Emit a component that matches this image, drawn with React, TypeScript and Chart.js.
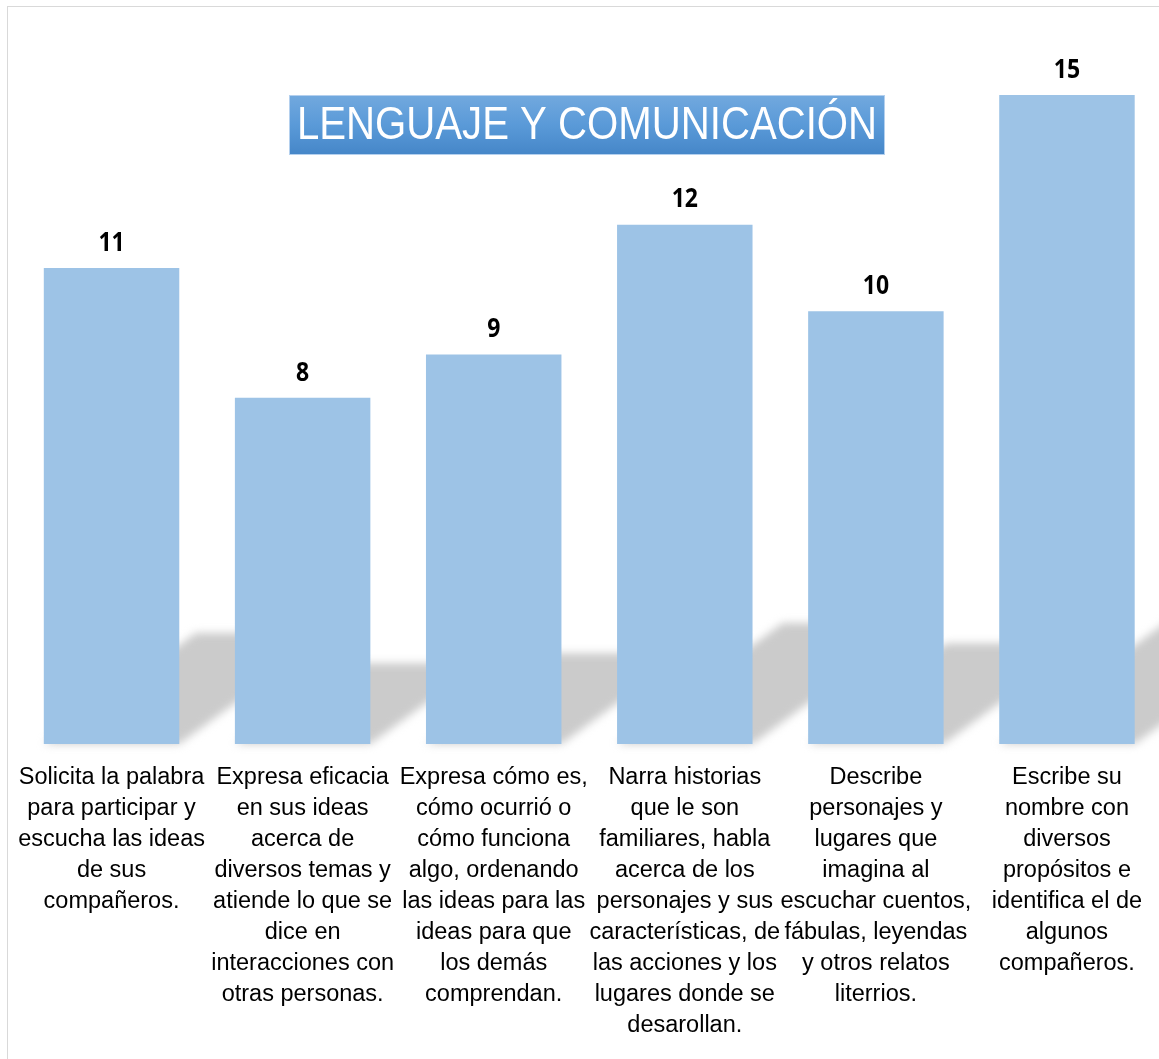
import React, { useEffect, useRef } from "react";
import { Chart, registerables } from "chart.js";

Chart.register(...registerables);

const categories: string[][] = [
  ["Solicita la palabra", "para participar y", "escucha las ideas", "de sus", "compañeros."],
  ["Expresa eficacia", "en sus ideas", "acerca de", "diversos temas y", "atiende lo que se", "dice en", "interacciones con", "otras personas."],
  ["Expresa cómo es,", "cómo ocurrió o", "cómo funciona", "algo, ordenando", "las ideas para las", "ideas para que", "los demás", "comprendan."],
  ["Narra historias", "que le son", "familiares, habla", "acerca de los", "personajes y sus", "características, de", "las acciones y los", "lugares donde se", "desarollan."],
  ["Describe", "personajes y", "lugares que", "imagina al", "escuchar cuentos,", "fábulas, leyendas", "y otros relatos", "literrios."],
  ["Escribe su", "nombre con", "diversos", "propósitos e", "identifica el de", "algunos", "compañeros."],
];

const values: number[] = [11, 8, 9, 12, 10, 15];

const titleText = "LENGUAJE Y COMUNICACIÓN";

const CANVAS_W = 1170;
const CANVAS_H = 1060;

const shadowPlugin = {
  id: "floorShadow",
  beforeDatasetsDraw(chart: any) {
    const ctx = chart.ctx as CanvasRenderingContext2D;
    const meta = chart.getDatasetMeta(0);
    ctx.save();
    ctx.filter = "blur(4px)";
    ctx.fillStyle = "#cbcbcb";
    meta.data.forEach((bar: any) => {
      const { x, y, base, width } = bar.getProps(["x", "y", "base", "width"], true);
      const L = x - width / 2;
      const R = x + width / 2;
      const sh = (base - y) * 0.233;
      const shift = sh * 1.37;
      ctx.beginPath();
      ctx.moveTo(L, base);
      ctx.lineTo(R, base);
      ctx.lineTo(R + shift, base - sh);
      ctx.lineTo(L + shift, base - sh);
      ctx.closePath();
      ctx.fill();
    });
    ctx.restore();
  },
};

const valueLabelPlugin = {
  id: "valueLabels",
  afterDatasetsDraw(chart: any) {
    const ctx = chart.ctx as CanvasRenderingContext2D;
    const meta = chart.getDatasetMeta(0);
    const data = chart.data.datasets[0].data as number[];
    ctx.save();
    ctx.font = "bold 25px 'Noto Sans', 'Open Sans', sans-serif";
    ctx.fillStyle = "#000000";
    ctx.textAlign = "center";
    ctx.textBaseline = "middle";
    meta.data.forEach((bar: any, i: number) => {
      const { x, y } = bar.getProps(["x", "y"], true);
      ctx.save();
      ctx.translate(x, y - 25);
      ctx.scale(0.92, 1.08);
      ctx.fillText(String(data[i]), 0, 0);
      ctx.restore();
    });
    ctx.restore();
  },
};

const titlePlugin = {
  id: "boxTitle",
  afterDraw(chart: any) {
    const ctx = chart.ctx as CanvasRenderingContext2D;
    const left = 281;
    const top = 88;
    const w = 596;
    const h = 60;
    ctx.save();
    const g = ctx.createLinearGradient(0, top, 0, top + h);
    g.addColorStop(0, "#72a9de");
    g.addColorStop(0.5, "#5a9ad8");
    g.addColorStop(1, "#4586c8");
    ctx.fillStyle = g;
    ctx.fillRect(left, top, w, h);
    ctx.strokeStyle = "#b4d0ee";
    ctx.lineWidth = 1;
    ctx.strokeRect(left + 0.5, top + 0.5, w - 1, h - 1);
    ctx.translate(left + w / 2, top + h / 2 + 1);
    ctx.scale(0.873, 1);
    ctx.font = "46px 'Liberation Sans', Arial, sans-serif";
    ctx.fillStyle = "#ffffff";
    ctx.textAlign = "center";
    ctx.textBaseline = "middle";
    ctx.fillText(titleText, 0, 0);
    ctx.restore();
  },
};

export default function App() {
  const ref = useRef<HTMLCanvasElement | null>(null);

  useEffect(() => {
    if (!ref.current) return;
    const chart = new Chart(ref.current, {
      type: "bar",
      data: {
        labels: categories,
        datasets: [
          {
            data: values,
            backgroundColor: "#9dc3e6",
            borderWidth: 0,
            categoryPercentage: 1,
            barPercentage: 0.709,
          },
        ],
      },
      options: {
        responsive: false,
        animation: false,
        devicePixelRatio: 1,
        layout: { padding: { top: 88, left: 8, right: 15.5, bottom: 0 } },
        plugins: {
          legend: { display: false },
          tooltip: { enabled: false },
          title: { display: false },
        },
        scales: {
          x: {
            grid: { display: false, drawTicks: false },
            border: { display: false },
            ticks: {
              color: "#000000",
              autoSkip: false,
              maxRotation: 0,
              minRotation: 0,
              padding: 18,
              font: { family: "'Liberation Sans', Arial, sans-serif", size: 23.5, lineHeight: 31 / 23.5 },
            },
            afterFit: (scale: any) => {
              scale.height = CANVAS_H - 737;
              scale.paddingLeft = 0;
              scale.paddingRight = 0;
            },
          },
          y: {
            display: false,
            min: 0,
            max: 15,
          },
        },
      },
      plugins: [shadowPlugin, valueLabelPlugin, titlePlugin],
    });
    return () => chart.destroy();
  }, []);

  return (
    <div style={{ position: "fixed", left: 0, top: 0, width: "100vw", height: "100vh", overflow: "hidden", background: "#ffffff" }}>
      <div
        style={{
          position: "absolute",
          left: 7,
          top: 6,
          width: 1200,
          height: 1100,
          border: "1px solid #d9d9d9",
          background: "#ffffff",
        }}
      >
        <canvas
          ref={ref}
          width={CANVAS_W}
          height={CANVAS_H}
          style={{ position: "absolute", left: 0, top: 0, width: CANVAS_W, height: CANVAS_H }}
        />
      </div>
    </div>
  );
}
